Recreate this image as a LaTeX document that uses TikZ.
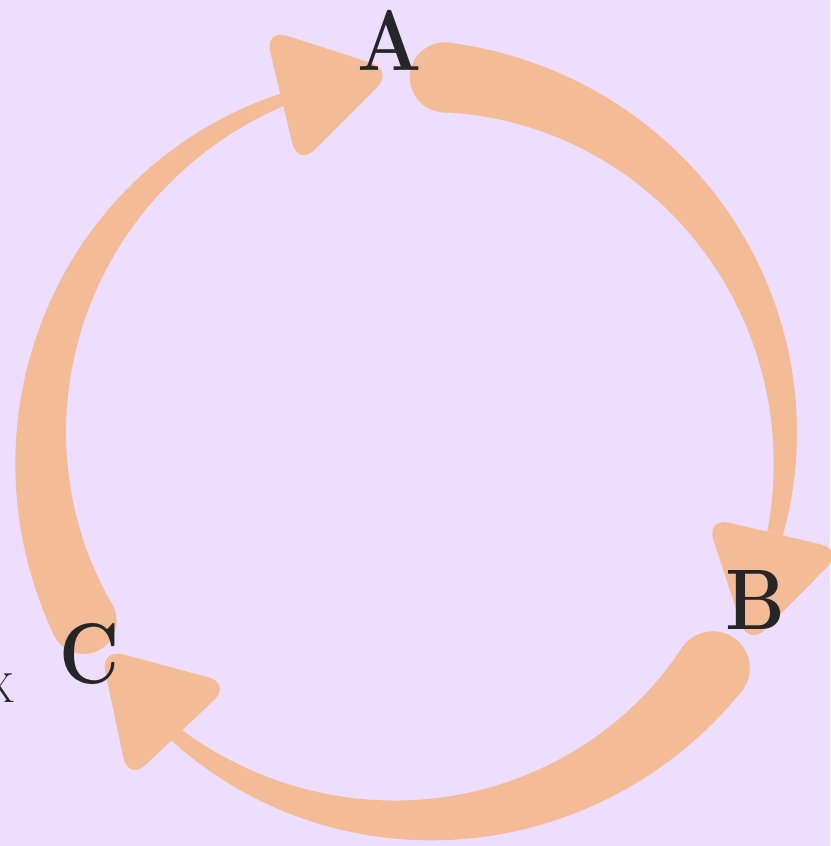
\documentclass[tikz,border=0pt]{standalone}
\usepackage{xcolor}
\usepackage{graphicx}
\definecolor{bgcol}{RGB}{237,222,255}
\definecolor{peach}{RGB}{244,188,150}
\definecolor{ink}{RGB}{38,38,40}
% #1 start angle, #2 end angle, #3 start width, #4 end width,
% #5 extra head rotation, #6 #7 head shift
\newcommand{\taperband}[7]{%
  \fill[peach] plot[domain=#1:#2,samples=80,variable=\t]
    ({413+(372+((#3)+((#4)-(#3))*(\t-(#1))/((#2)-(#1)))/2)*cos(\t)},
     {448+(372+((#3)+((#4)-(#3))*(\t-(#1))/((#2)-(#1)))/2)*sin(\t)})
    -- plot[domain=#2:#1,samples=80,variable=\t]
    ({413+(372-((#3)+((#4)-(#3))*(\t-(#1))/((#2)-(#1)))/2)*cos(\t)},
     {448+(372-((#3)+((#4)-(#3))*(\t-(#1))/((#2)-(#1)))/2)*sin(\t)})
    -- cycle;
  \fill[peach] ({413+372*cos(#1)},{448+372*sin(#1)}) circle ({(#3)/2});
  \pgfmathsetmacro\hpx{413+372*cos(#2)+(#6)}%
  \pgfmathsetmacro\hpy{448+372*sin(#2)+(#7)}%
  \pgfmathsetmacro\hnx{cos((#2)+(#5))}%
  \pgfmathsetmacro\hny{sin((#2)+(#5))}%
  \fill[peach,rounded corners=24pt]
    ({\hpx+71*\hnx},{\hpy+71*\hny}) --
    ({\hpx-116*\hny},{\hpy+116*\hnx}) --
    ({\hpx-71*\hnx},{\hpy-71*\hny}) -- cycle;
}
\begin{document}
\begin{tikzpicture}[x=1pt,y=-1pt,
  lbl/.style={text=ink,font=\fontsize{86}{86}\selectfont\bfseries,inner sep=0pt}]
\fill[bgcol] (0,0) rectangle (830,846);
\useasboundingbox (0,0) rectangle (830,846);
% A -> B
\taperband{-85.1}{13.3}{70}{16}{0}{0}{0}
% B -> C
\taperband{36.3}{130.6}{74}{14}{6}{9}{2}
% C -> A
\taperband{152.3}{250.4}{66}{12}{6}{-7}{0}
\node[lbl] (A) at (390,40) {\scalebox{0.88}[1]{A}};
\node[lbl] (B) at (755,600) {\scalebox{0.87}[1]{B}};
\node[lbl] (C) at (90,654) {\scalebox{0.86}[1]{C}};
\node[text=ink,font=\fontsize{42}{42}\selectfont,inner sep=0pt] (X) at (0,688) {X};
\end{tikzpicture}
\end{document}
